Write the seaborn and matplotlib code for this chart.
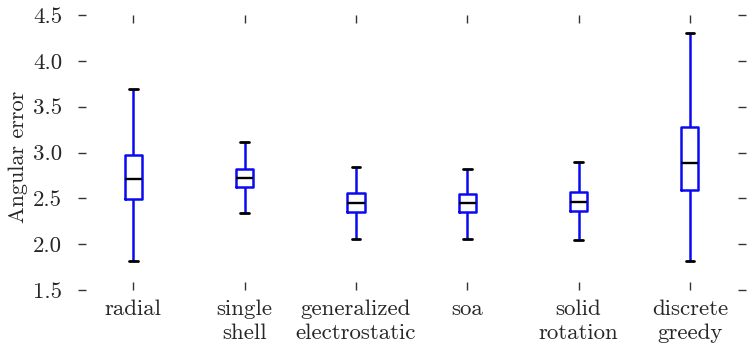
import numpy as np
import pandas as pd
import matplotlib
matplotlib.use("Agg")
import matplotlib.pyplot as plt
import seaborn as sns

categories = ["radial", "single\nshell", "generalized\nelectrostatic", "soa",
              "solid\nrotation", "discrete\ngreedy"]
# five-number summaries: min, q1, median, q3, max
whisker_low = [1.82, 2.34, 2.06, 2.06, 2.05, 1.82]
q1 = [2.49, 2.62, 2.35, 2.35, 2.36, 2.59]
median = [2.71, 2.72, 2.45, 2.45, 2.46, 2.89]
q3 = [2.97, 2.82, 2.555, 2.55, 2.57, 3.28]
whisker_high = [3.69, 3.11, 2.846, 2.824, 2.894, 4.30]
yticks = [1.5, 2.0, 2.5, 3.0, 3.5, 4.0, 4.5]

rows = []
for i, c in enumerate(categories):
    for v in (whisker_low[i], q1[i], median[i], q3[i], whisker_high[i]):
        rows.append({"method": c, "error": v})
df = pd.DataFrame(rows)

sns.set_theme(style="white")
plt.rcParams["font.family"] = ["cmr10", "DejaVu Serif"]
plt.rcParams["axes.formatter.use_mathtext"] = True

fig = plt.figure(figsize=(7.5, 3.51), dpi=100)
ax = fig.add_axes([0.1035, 0.174, 0.8905, 0.783])

blue = "#0a0af0"
lw = 1.8
sns.boxplot(data=df, x="method", y="error", order=categories, ax=ax,
            fill=False, color=blue, width=0.155, whis=(0, 100),
            linewidth=lw,
            boxprops=dict(color=blue, linewidth=lw),
            whiskerprops=dict(color=blue, linewidth=lw),
            capprops=dict(color="black", linewidth=2.0),
            medianprops=dict(color="black", linewidth=1.7),
            showfliers=False)

ax.set_ylim(1.5, 4.5)
ax.set_xlim(-0.5, 5.5)
ax.set_yticks(yticks)
ax.set_yticklabels([f"{t:.1f}" for t in yticks])
ax.set_xlabel("")
ax.set_ylabel("Angular error", fontsize=16)
ax.yaxis.set_label_coords(-0.0745, 0.485)
for s in ax.spines.values():
    s.set_visible(False)
ax.tick_params(axis="both", which="both", direction="in", length=6, width=1,
               color="#333333", labelsize=16.5, top=True, right=True,
               left=True, bottom=True)
ax.tick_params(axis="y", pad=11)
ax.tick_params(axis="x", pad=7)
for lab in ax.get_xticklabels():
    lab.set_verticalalignment("top")
    lab.set_linespacing(1.25)

fig.savefig("out.png", dpi=100)
